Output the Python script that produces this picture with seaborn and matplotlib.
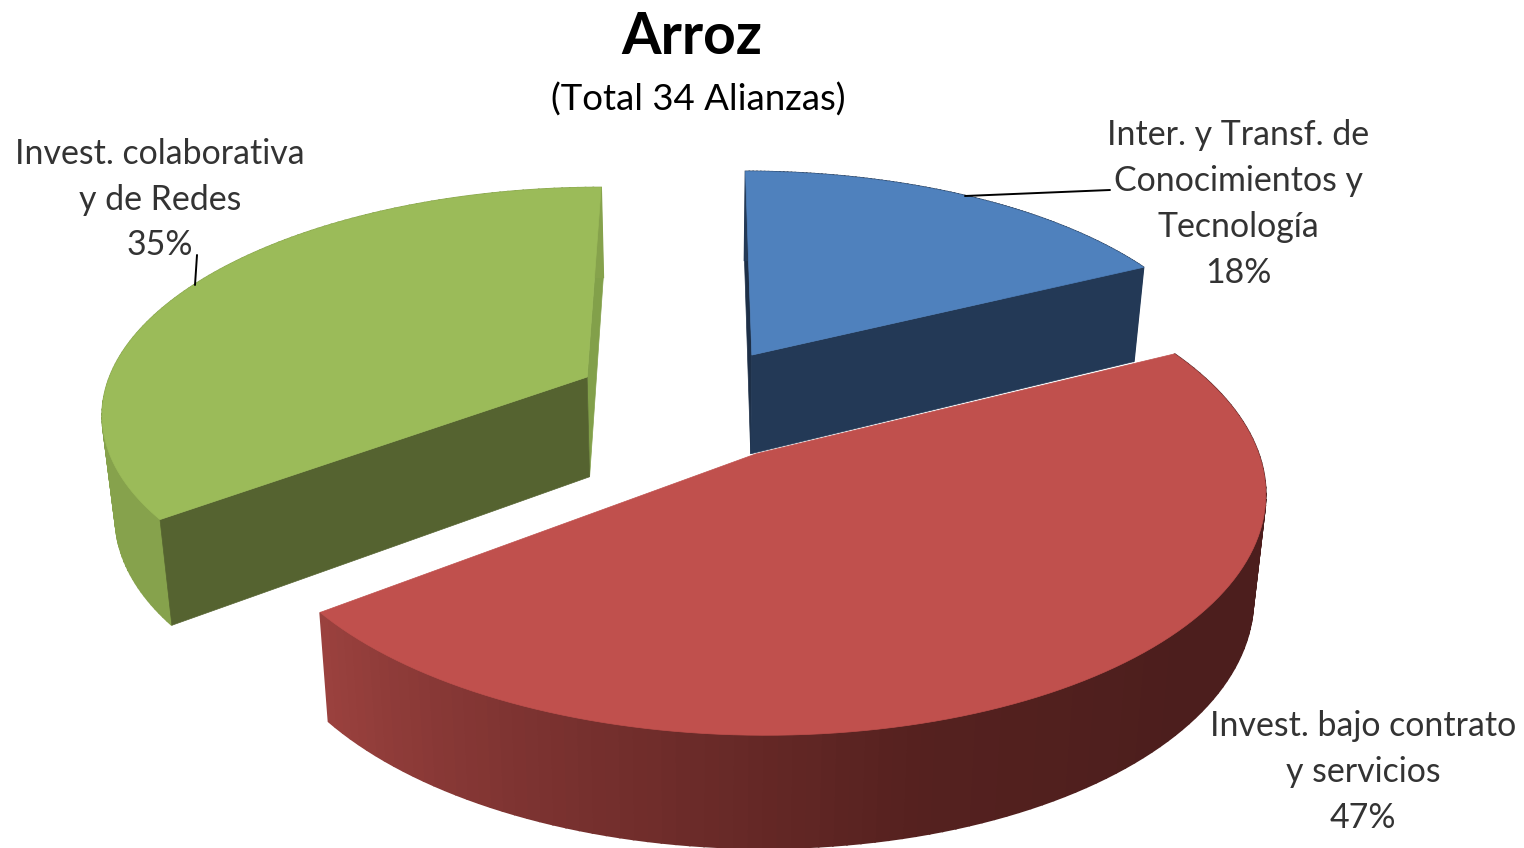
import numpy as np
import seaborn as sns
import matplotlib.pyplot as plt
from matplotlib.patches import Polygon

categories = ['Inter. y Transf. de\nConocimientos y\nTecnología', 'Invest. bajo contrato\ny servicios', 'Invest. colaborativa\ny de Redes']
alianzas = [6, 16, 12]
title = 'Arroz'
subtitle = '(Total 34 Alianzas)'

# plano del pastel -> pixeles (perspectiva)
CX, CY, R, FR, P = 700, 452, 506, 240.5, 0.15
OFFSETS = [(0.109, 0.429), (0.11, -0.008), (-0.234, 0.327)]
SCALES = [0.985, 0.993, 0.99]
TOP = ['#4f81bd', '#c0504d', '#9bbb59']
DARK = ['#233956', None, '#556330']
THIN = ['#1d2f47', None, '#82a04a']
RIM = [['#233956', '#233956'],
       ['#4c1e1d', '#4c1e1d', '#4c1e1d', '#55211f', '#77302e', '#9a413e'],
       ['#86a24c', '#86a24c']]
DARK_END = [-1, -1, 0]


def project(x, y):
    w = 1 + P * y
    return CX + R * x / w, CY - FR * y / w


def drop(px, py, y):
    # punto de la base bajo el borde superior
    return CX + (px - CX) * 0.978, py + 103 - 10 * y


def draw_slice(ax, i, start, sweep):
    ang = np.radians(np.linspace(start, start + sweep, 120))
    ox, oy = OFFSETS[i]
    xs = ox + SCALES[i] * np.sin(ang)
    ys = oy + SCALES[i] * np.cos(ang)
    px, py = project(xs, ys)
    bx, by = drop(px, py, ys)
    apx, apy = project(ox, oy)
    abx, aby = drop(apx, apy, oy)

    # paredes radiales (la roja no se ve)
    d = DARK_END[i]
    t = 0 if d == -1 else -1
    if THIN[i]:
        ax.add_patch(Polygon([(apx, apy), (px[t], py[t]), (bx[t], by[t]), (abx, aby)], fc=THIN[i], ec=THIN[i], lw=0.5))

    # borde exterior con degradado
    cols = sns.blend_palette(RIM[i], len(ang) - 1)
    for k in range(len(ang) - 1):
        q = [(px[k], py[k]), (px[k + 1], py[k + 1]), (bx[k + 1], by[k + 1]), (bx[k], by[k])]
        ax.add_patch(Polygon(q, fc=cols[k], ec=cols[k], lw=1.2))

    if DARK[i]:
        ax.add_patch(Polygon([(apx, apy), (px[d], py[d]), (bx[d], by[d]), (abx, aby)], fc=DARK[i], ec=DARK[i], lw=0.5))

    # cara superior
    ax.add_patch(Polygon(np.r_[[[apx, apy]], np.c_[px, py]], fc=TOP[i], ec=TOP[i], lw=0.5))


sns.set_theme(style='white')
plt.rcParams['font.family'] = ['Lato', 'DejaVu Sans']
fig, ax = plt.subplots(figsize=(15.24, 8.48), dpi=100)
fig.subplots_adjust(0, 0, 1, 1)
ax.set_xlim(0, 1524)
ax.set_ylim(848, 0)
ax.axis('off')

sweeps = np.array(alianzas) / sum(alianzas) * 360
starts = np.r_[0, np.cumsum(sweeps)[:-1]]
pct = [round(a / sum(alianzas) * 100) for a in alianzas]
for i in [2, 0, 1]:
    draw_slice(ax, i, starts[i], sweeps[i])

ax.plot([965, 1110], [196, 190], color='black', lw=1.4)
ax.plot([195, 197], [285, 255], color='black', lw=1.4)

txt = dict(color='#333333', fontsize=24.4, ha='center', va='center', linespacing=1.53)
ax.text(1238, 204, f'{categories[0]}\n{pct[0]}%', **txt)
ax.text(1363, 772, f'{categories[1]}\n{pct[1]}%', **txt)
ax.text(160, 199.5, f'{categories[2]}\n{pct[2]}%', **txt)
ax.text(692, 38, title, fontsize=41, fontweight='bold', color='black', ha='center', va='center')
ax.text(698, 100, subtitle, fontsize=26.4, color='black', ha='center', va='center')

fig.savefig('out.png', dpi=100)
